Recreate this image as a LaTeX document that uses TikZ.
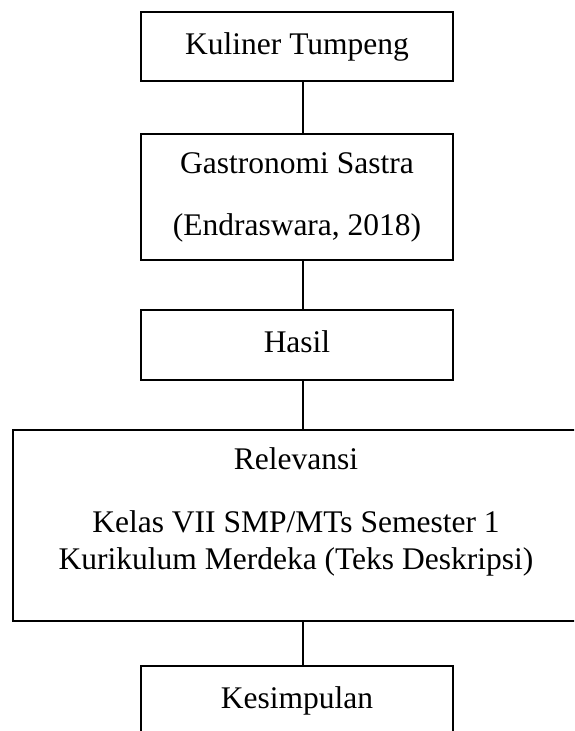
\documentclass[tikz,border=0pt]{standalone}
\usepackage{fontspec}
\setmainfont{Liberation Serif}
\usetikzlibrary{positioning}
\newcommand{\boxfont}{\fontsize{31.5}{37}\selectfont}

\begin{document}
\begin{tikzpicture}[
        x=1pt, y=-1pt,
        box/.style={draw, rectangle, line width=1.2pt, inner sep=0pt,
            minimum width=312pt, align=center, font=\boxfont},
        link/.style={line width=2pt}]

        \clip (0,0) rectangle (574,731);

        \node[box, minimum height=69pt] (tump) at (297,46.5) {Kuliner Tumpeng};
        \node[box, minimum height=126pt] (gastro) at (297,197)
            {Gastronomi Sastra\\[25pt](Endraswara, 2018)};
        \node[box, minimum height=70pt, text depth=7pt] (hasil) at (297,345) {Hasil};
        \node[box, minimum width=566pt, minimum height=191pt] (relev) at (296,525.5)
            {Relevansi\\[26pt]Kelas VII SMP/MTs Semester 1\\
             Kurikulum Merdeka (Teks Deskripsi)\rule[-33pt]{0pt}{33pt}};
        \node[box, minimum height=70pt] (kesim) at (297,701) {Kesimpulan};

        % connectors sit a little right of the box centres
        \coordinate (axis) at (303,0);
        \foreach \a/\b in {tump/gastro, gastro/hasil, hasil/relev, relev/kesim}
            \draw[link] (\a.south -| axis) -- (\b.north -| axis);

    \end{tikzpicture}
\end{document}
